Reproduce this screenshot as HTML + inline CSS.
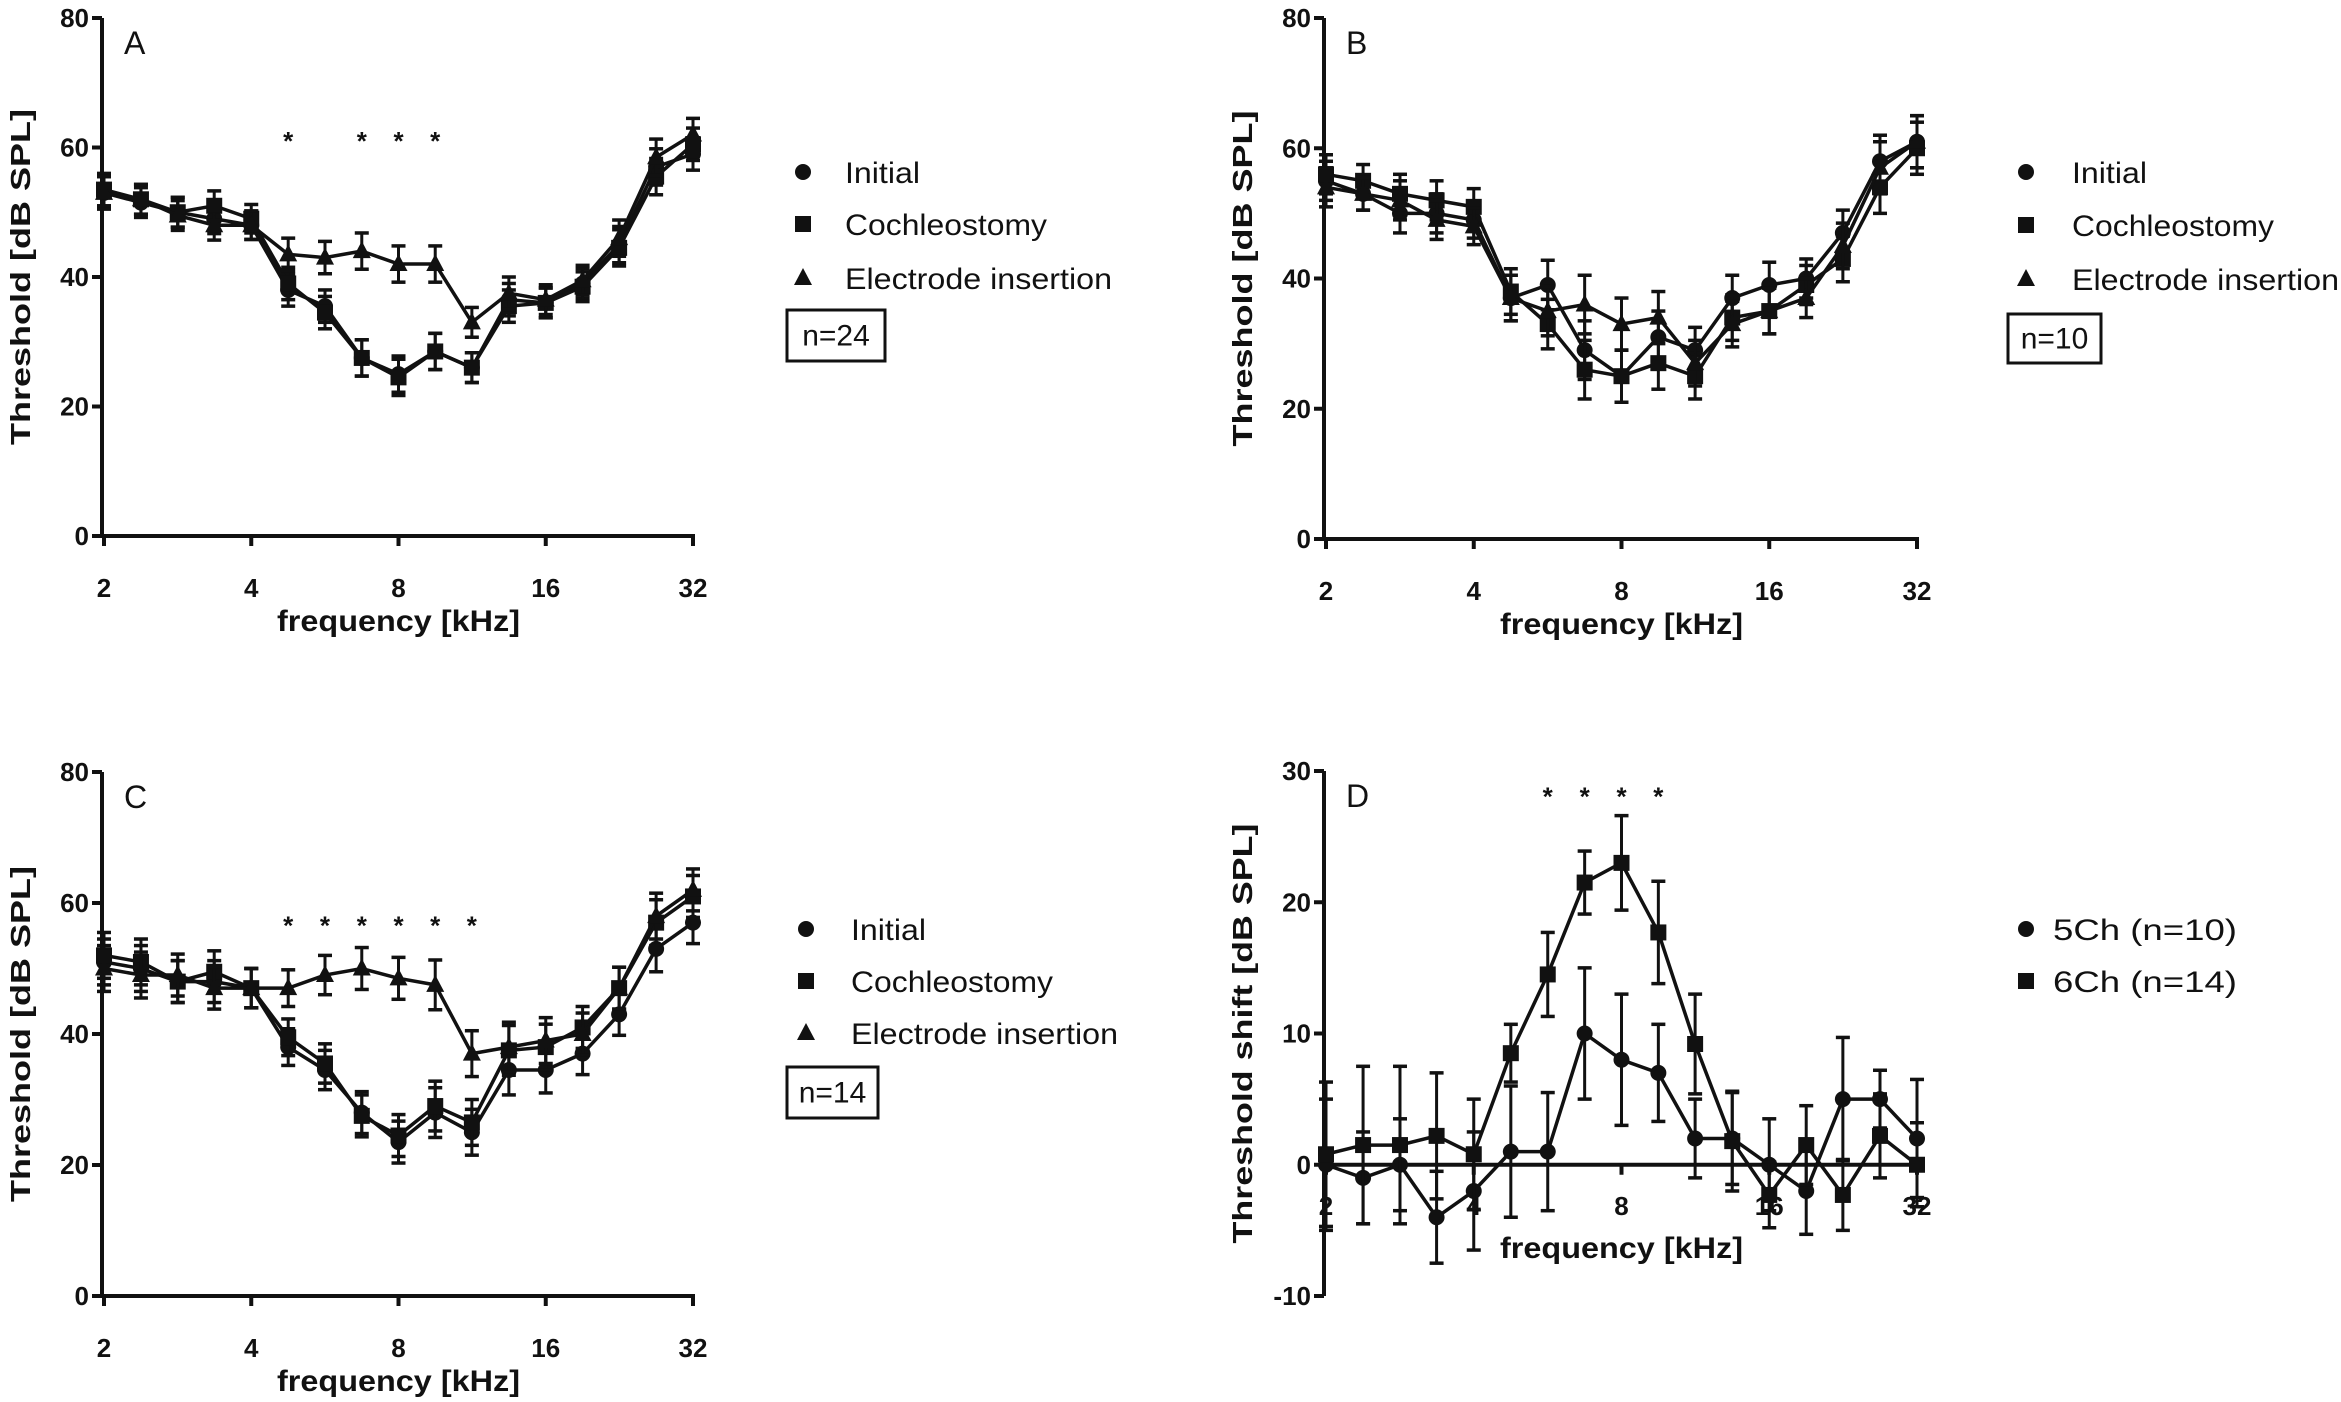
<!DOCTYPE html>
<html><head><meta charset="utf-8"><style>
html,body{margin:0;padding:0;background:#fff}
svg{display:block}
text{font-family:"Liberation Sans",sans-serif;fill:#111}
</style></head><body>
<svg id="fig" width="2341" height="1402" viewBox="0 0 2341 1402" xmlns="http://www.w3.org/2000/svg"></svg>
<script>
const freqs=[2,2.38,2.83,3.36,4,4.76,5.66,6.73,8,9.51,11.3,13.45,16,19.03,22.6,26.9,32];
const xTickLabels=[2,4,8,16,32];
const yTicksABC=[0,20,40,60,80];
const yTicksD=[-10,0,10,20,30];
const seriesNamesABC=["Initial","Cochleostomy","Electrode insertion"];
const seriesNamesD=["5Ch (n=10)","6Ch (n=14)"];
const aInitial=[53,51.5,50,49,48,38,35.5,27.5,25,28.5,26,36.5,36,39,45,57,59];
const aCochleo=[53.5,52,50,51,49,39,34.5,27.5,24.5,28.5,26,35.5,36,38.5,44.5,55.5,60.5];
const aElectrode=[53,52,49.5,48,48,43.5,43,44,42,42,33,37.5,36.5,39.5,46,58.5,62];
const aErr=[2.5,2.3,2.3,2.3,2.2,2.5,2.5,2.8,2.8,2.8,2.3,2.5,2.3,2.3,2.8,2.8,2.5];
const aStars=[4.76,6.73,8,9.51];
const bInitial=[55,53,50,50,49,37,39,29,25,31,29,37,39,40,47,58,61];
const bCochleo=[56,55,53,52,51,38,33,26,25,27,25,34,35,39,43,54,60];
const bElectrode=[54,53,52,49,48,37,35,36,33,34,27,33,35,37,45,57,61];
const bErr=[3,2.5,3,3,2.8,3.5,3.8,4.5,4,4,3.5,3.5,3.5,3,3.5,4,4];
const cInitial=[51,50,48,48,47,38,34.5,28,23.5,28,25,34.5,34.5,37,43,53,57];
const cCochleo=[52,51,48,49.5,47,39.5,35.5,27.5,24.5,29,26.5,37.5,38,41,47,57,61];
const cElectrode=[50,49,49,47,47,47,49,50,48.5,47.5,37,38,39,40,47,58,62];
const cErr=[3.5,3.5,3.2,3.2,3,2.8,3,3.2,3.2,3.8,3.5,3.8,3.5,3.2,3.2,3.5,3.2];
const cStars=[4.76,5.66,6.73,8,9.51,11.3];
const d5Ch=[0,-1,0,-4,-2,1,1,10,8,7,2,2,0,-2,5,5,2];
const d6Ch=[0.8,1.5,1.5,2.2,0.8,8.5,14.5,21.5,23,17.7,9.2,1.8,-2.3,1.5,-2.3,2.2,0];
const d5Err=[5,3.5,3.5,3.5,4.5,5,4.5,5,5,3.7,3,3.5,3.5,3.3,4.7,2.2,4.5];
const d6Err=[5.5,6,6,4.8,4.2,2.2,3.2,2.4,3.6,3.9,3.8,3.8,2.5,3,2.7,3.2,3.2];
const dStars=[5.66,6.73,8,9.51];

const legendWidths={"Initial":75,"Cochleostomy":202,"Electrode insertion":267,"5Ch (n=10)":184,"6Ch (n=14)":184};
const NS="http://www.w3.org/2000/svg";
const svg=document.getElementById('fig');
function el(tag,attrs,parent){const e=document.createElementNS(NS,tag);for(const k in attrs)e.setAttribute(k,attrs[k]);(parent||svg).appendChild(e);return e;}
function txt(s,attrs,parent){const e=el('text',attrs,parent);e.textContent=s;return e;}

function marker(g,shape,x,y){
  let m;
  if(shape==='circle'){m=el('circle',{cx:x,cy:y,r:8,fill:'#111'},g);}
  else if(shape==='square'){m=el('rect',{x:x-8,y:y-8,width:16,height:16,fill:'#111'},g);}
  else {m=el('polygon',{points:`${x},${y-10} ${x-9},${y+7} ${x+9},${y+7}`,fill:'#111'},g);}
  return m;
}

function panel(cfg){
  const g=el('g',{});
  
  
  const X=f=>cfg.x0+(Math.log2(f)-1)/4*(cfg.x1-cfg.x0);
  const Y=v=>cfg.yb+(v-cfg.ymin)/(cfg.ymax-cfg.ymin)*(cfg.yt-cfg.yb);
  const ya=el('line',{x1:cfg.ax,y1:cfg.yt,x2:cfg.ax,y2:cfg.yb,stroke:'#111','stroke-width':4},g);
  
  cfg.yticks.forEach(v=>{
    el('line',{x1:cfg.ax-10,y1:Y(v),x2:cfg.ax,y2:Y(v),stroke:'#111','stroke-width':4},g);
    const t=txt(String(v),{x:cfg.ax-13,y:Y(v)+9,'text-anchor':'end','font-size':26,'font-weight':'bold'},g);
    
  });
  const xy=Y(cfg.xAxisVal);
  const xa=el('line',{x1:cfg.ax,y1:xy,x2:cfg.x1+2,y2:xy,stroke:'#111','stroke-width':4},g);
  
  xTickLabels.forEach(f=>{
    el('line',{x1:X(f),y1:xy,x2:X(f),y2:xy+10,stroke:'#111','stroke-width':4},g);
    const t=txt(String(f),{x:X(f),y:cfg.tickY,'text-anchor':'middle','font-size':26,'font-weight':'bold'},g);
    
  });
  const xt=txt('frequency [kHz]',{x:(cfg.x0+cfg.x1)/2,y:cfg.xlabelY,'text-anchor':'middle','font-size':30,'font-weight':'bold',textLength:243,lengthAdjust:'spacingAndGlyphs'},g);
  
  const yc=(cfg.yt+cfg.yb)/2;
  const yt=txt(cfg.ytitle,{x:0,y:0,'text-anchor':'middle','font-size':28,'font-weight':'bold',textLength:cfg.ytitleLen,lengthAdjust:'spacingAndGlyphs',transform:`translate(${cfg.ax-72},${yc}) rotate(-90)`},g);
  
  const lt=txt(cfg.letter,{x:cfg.ax+22,y:cfg.yt+36,'font-size':32},g);
  
  cfg.series.forEach((s,si)=>{
    const sg=el('g',{},g);
    
    
    const pts=freqs.map((f,i)=>X(f)+','+Y(s.vals[i])).join(' ');
    el('polyline',{points:pts,fill:'none',stroke:'#111','stroke-width':3.5},sg);
    freqs.forEach((f,i)=>{
      const x=X(f),y=Y(s.vals[i]);
      const up=Y(s.vals[i]+s.err[i]),dn=Y(s.vals[i]-s.err[i]);
      const eb=el('g',{},sg);
      
      
      el('line',{x1:x,y1:up,x2:x,y2:dn,stroke:'#111','stroke-width':3},eb);
      el('line',{x1:x-7,y1:up,x2:x+7,y2:up,stroke:'#111','stroke-width':3.5},eb);
      el('line',{x1:x-7,y1:dn,x2:x+7,y2:dn,stroke:'#111','stroke-width':3.5},eb);
      const m=marker(sg,s.shape,x,y);
      
      
    });
  });
  cfg.stars.forEach(f=>{
    const st=txt('*',{x:X(f),y:Y(cfg.starVal)+12,'text-anchor':'middle','font-size':26,'font-weight':'bold'},g);
    
  });
  cfg.series.forEach((s,si)=>{
    const ly=cfg.legRows[si];
    const lg=el('g',{},g);
    
    
    marker(lg,s.shape,cfg.legX,ly);
    txt(s.label,{x:cfg.legTX,y:ly+11,'font-size':30,textLength:legendWidths[s.label],lengthAdjust:'spacingAndGlyphs'},lg);
  });
  if(cfg.nbox){
    const b=cfg.nbox;
    const nb=el('g',{},g);
    
    
    el('rect',{x:b[0],y:b[1],width:b[2],height:b[3],fill:'none',stroke:'#111','stroke-width':3},nb);
    txt(b[4],{x:b[0]+b[2]/2,y:b[1]+b[3]/2+10,'text-anchor':'middle','font-size':30},nb);
  }
}
const abcShapes=['circle','square','triangle'];
function abcSeries(v,err){return [
 {key:'initial',label:seriesNamesABC[0],shape:abcShapes[0],vals:v[0],err:err},
 {key:'cochleostomy',label:seriesNamesABC[1],shape:abcShapes[1],vals:v[1],err:err},
 {key:'electrode-insertion',label:seriesNamesABC[2],shape:abcShapes[2],vals:v[2],err:err}];}
panel({name:'panel-a',letter:'A',ax:102,x0:104,x1:693,yt:18,yb:536,ymin:0,ymax:80,xAxisVal:0,yticks:yTicksABC,tickY:597,xlabelY:631,ytitle:'Threshold [dB SPL]',ytitleLen:336,
 series:abcSeries([aInitial,aCochleo,aElectrode],aErr),stars:aStars,starVal:61.5,legX:803,legTX:845,legRows:[172,224,278],nbox:[787,310,98,51,'n=24']});
panel({name:'panel-b',letter:'B',ax:1324,x0:1326,x1:1917,yt:18,yb:539,ymin:0,ymax:80,xAxisVal:0,yticks:yTicksABC,tickY:600,xlabelY:634,ytitle:'Threshold [dB SPL]',ytitleLen:336,
 series:abcSeries([bInitial,bCochleo,bElectrode],bErr),stars:[],starVal:0,legX:2026,legTX:2072,legRows:[172,225,279],nbox:[2008,314,93,49,'n=10']});
panel({name:'panel-c',letter:'C',ax:102,x0:104,x1:693,yt:772,yb:1296,ymin:0,ymax:80,xAxisVal:0,yticks:yTicksABC,tickY:1357,xlabelY:1391,ytitle:'Threshold [dB SPL]',ytitleLen:336,
 series:abcSeries([cInitial,cCochleo,cElectrode],cErr),stars:cStars,starVal:57,legX:806,legTX:851,legRows:[929,981,1033],nbox:[787,1067,91,51,'n=14']});
panel({name:'panel-d',letter:'D',ax:1324,x0:1326,x1:1917,yt:771,yb:1296,ymin:-10,ymax:30,xAxisVal:0,yticks:yTicksD,tickY:1215,xlabelY:1258,ytitle:'Threshold shift [dB SPL]',ytitleLen:420,
 series:[{key:'5ch',label:seriesNamesD[0],shape:'circle',vals:d5Ch,err:d5Err},{key:'6ch',label:seriesNamesD[1],shape:'square',vals:d6Ch,err:d6Err}],
 stars:dStars,starVal:28.3,legX:2026,legTX:2053,legRows:[929,981],nbox:null});
</script>
</body></html>
